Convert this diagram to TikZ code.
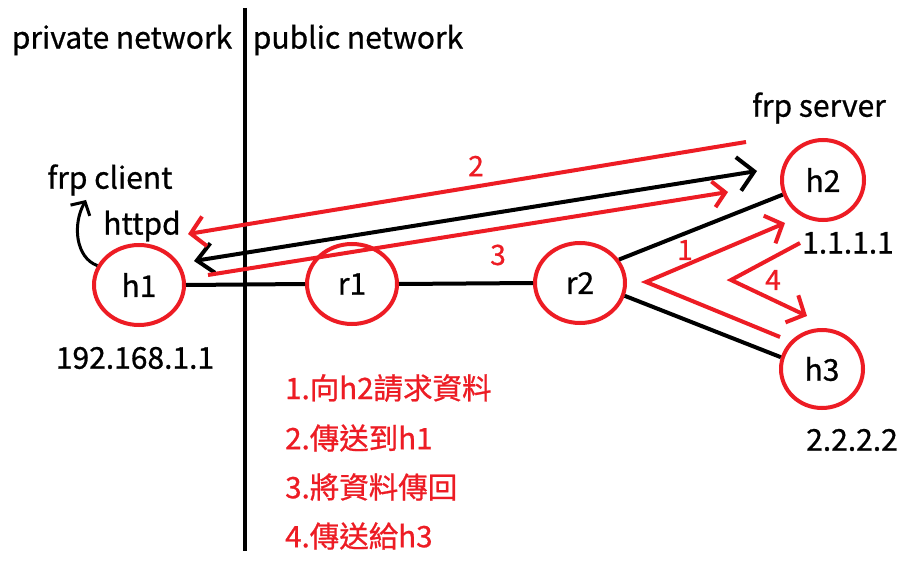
\documentclass[tikz,border=0pt]{standalone}
\usepackage{fontspec}
\setmainfont{Noto Sans CJK TC}[FakeBold=0.8]
\usetikzlibrary{shapes.geometric,arrows.meta}
\definecolor{pred}{HTML}{ED1C24}
\tikzset{
  hostnode/.style={ellipse, draw=pred, line width=4pt, minimum width=90pt, minimum height=80pt, inner sep=0pt, font=\fontsize{30}{34}\selectfont},
  lbl/.style={font=\fontsize{30}{34}\selectfont, inner sep=0pt},
  redlbl/.style={font=\fontsize{28}{32}\selectfont, text=pred, inner sep=0pt},
  legend/.style={font=\fontsize{29.5}{32}\selectfont, text=pred, inner sep=0pt, anchor=west},
  link/.style={line width=4pt, black},
  redarrow/.style={line width=4pt, pred, -{Straight Barb[length=14pt,width=30pt]}},
}
\begin{document}
\begin{tikzpicture}[x=1pt,y=-1pt]
\useasboundingbox[fill=white] (0,0) rectangle (909,561);
% divider
\coordinate (vtop) at (245,8);
\coordinate (vbot) at (245,551);
\draw[line width=4pt] (vtop) -- (vbot);
% headings
\node[lbl] (priv) at (122,40) {private network};
\node[lbl] (pub) at (358,40) {public network};
\node[lbl] (srv) at (819,108) {frp server};
\node[lbl] (cli) at (110,180) {frp client};
\node[lbl] (httpd) at (142,226) {httpd};
% hosts
\node[hostnode] (h1) at (139,285) {h1};
\node[hostnode] (r1) at (352,284) {r1};
\node[hostnode] (r2) at (580,283) {r2};
\node[hostnode, minimum width=82pt] (h2) at (823,180) {h2};
\node[hostnode, minimum width=82pt, minimum height=78pt] (h3) at (822,369) {h3};
% addresses
\node[lbl] (a1) at (135,358) {192.168.1.1};
\node[lbl] (a2) at (848,243) {1.1.1.1};
\node[lbl] (a3) at (852,440) {2.2.2.2};
% links
\draw[link] (h1.east) -- (r1.west);
\draw[link] (r1.east) -- (r2.west);
\draw[link] (r2.31) -- (h2.200);
\draw[link] (r2.-16) -- (h3.164);
% frp client arrow
\coordinate (cliTip) at (86,200);
\draw[line width=3pt, -{Straight Barb[length=10pt,width=22pt]}] (h1.155) .. controls (76,258) and (72,225) .. (cliTip);
% tunnel (black, double headed)
\coordinate (tL) at (194,261);
\coordinate (tR) at (757,171);
\draw[line width=4pt, {Straight Barb[length=16pt,width=30pt]}-{Straight Barb[length=16pt,width=34pt]}] (tL) -- (tR);
% red 2
\coordinate (s2) at (746,142);
\coordinate (e2) at (188,234);
\draw[redarrow] (s2) -- (e2);
\node[redlbl] (n2) at (476,166) {2};
% red 3
\coordinate (s3) at (208,275);
\coordinate (e3) at (728,192);
\draw[redarrow, -{Straight Barb[length=12pt,width=26pt]}] (s3) -- (e3);
\node[redlbl] (n3) at (498,255) {3};
% red 1
\coordinate (s1) at (780,337);
\coordinate (m1) at (646,282);
\coordinate (e1) at (785,223);
\draw[redarrow, line join=miter] (s1) -- (m1) -- (e1);
\node[redlbl] (n1) at (685,250) {1};
% red 4
\coordinate (s4) at (800,243);
\coordinate (m4) at (731,280);
\coordinate (e4) at (807,316);
\draw[redarrow, line join=miter] (s4) -- (m4) -- (e4);
\node[redlbl] (n4) at (773,280) {4};
% legend
\node[legend] (l1) at (285,388) {1.向h2請求資料};
\node[legend] (l2) at (285,438) {2.傳送到h1};
\node[legend] (l3) at (285,487) {3.將資料傳回};
\node[legend] (l4) at (285,536) {4.傳送給h3};
\end{tikzpicture}
\end{document}
